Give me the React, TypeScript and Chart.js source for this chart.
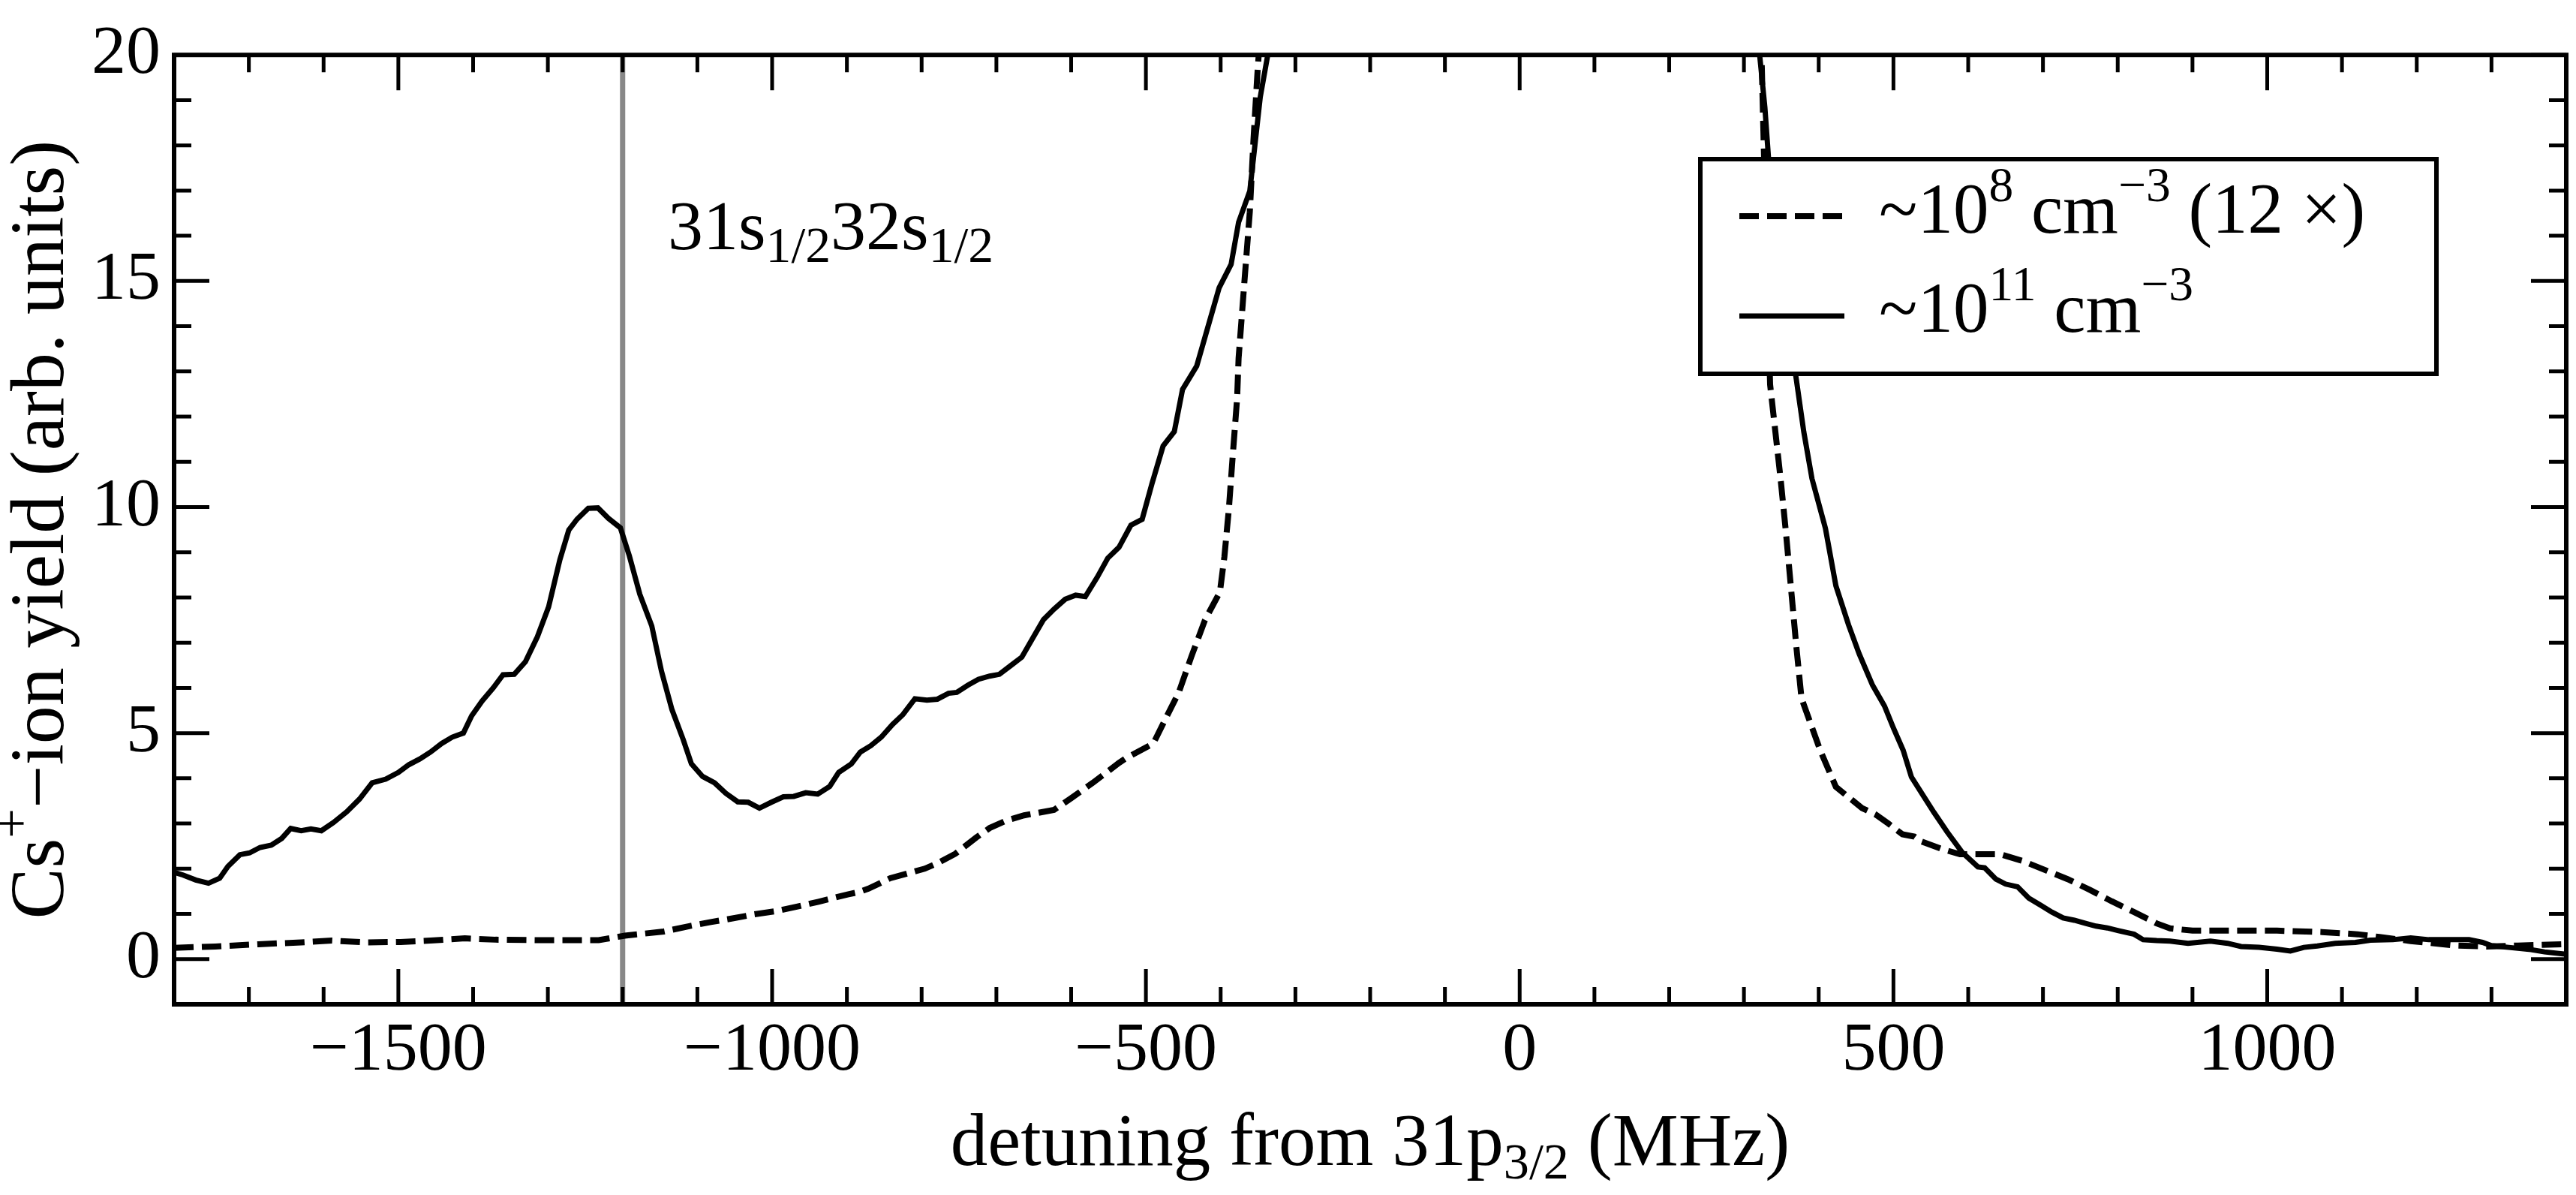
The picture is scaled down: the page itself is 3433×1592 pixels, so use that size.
import React, { useEffect, useRef } from "react";
import { Chart, registerables } from "chart.js";

Chart.register(...registerables);

const FONT = "'Liberation Serif', 'Times New Roman', serif";

// ~10^11 cm^-3 (solid)
const solidDetuning = [
  -1800, -1788, -1771, -1754, -1739, -1728, -1712, -1699, -1685, -1670, -1656, -1644, -1630, -1617,
  -1603, -1587, -1569, -1552, -1535, -1517, -1500, -1486, -1471, -1457, -1442, -1428, -1413, -1402,
  -1388, -1373, -1360, -1345, -1330, -1314, -1299, -1284, -1272, -1261, -1246, -1233, -1219, -1203,
  -1191, -1177, -1161, -1148, -1134, -1119, -1108, -1093, -1077, -1062, -1046, -1032, -1017, -1001,
  -985, -971, -955, -939, -923, -911, -894, -882, -868, -854, -839, -825, -809, -793, -779, -764,
  -753, -738, -724, -709, -696, -681, -666, -652, -637, -623, -608, -594, -581, -565, -551, -536,
  -520, -505, -492, -477, -462, -451, -432, -414, -402, -386, -376, -361, -354, -347, -337, -330,
  0,
  315, 321, 328, 333, 352, 370, 380, 391, 409, 423, 440, 454, 472, 488, 500, 513, 524, 539, 554,
  572, 592, 613, 622, 637, 650, 666, 681, 697, 712, 727, 742, 757, 771, 786, 801, 822, 834, 852,
  870, 894, 924, 947, 965, 989, 1013, 1031, 1049, 1067, 1091, 1118, 1138, 1168, 1192, 1216, 1246,
  1270, 1288, 1300, 1323, 1353, 1371, 1400,
];
const solidYield: (number | null)[] = [
  1.92, 1.86, 1.75, 1.68, 1.79, 2.05, 2.31, 2.35, 2.47, 2.52, 2.67, 2.89, 2.84, 2.88,
  2.84, 3.02, 3.26, 3.54, 3.9, 3.98, 4.13, 4.3, 4.43, 4.58, 4.77, 4.91, 5.0, 5.38,
  5.71, 6.0, 6.29, 6.3, 6.58, 7.13, 7.79, 8.83, 9.49, 9.73, 9.97, 9.98, 9.75, 9.54,
  8.92, 8.07, 7.37, 6.37, 5.52, 4.86, 4.32, 4.04, 3.9, 3.67, 3.48, 3.47, 3.34, 3.47,
  3.59, 3.6, 3.68, 3.65, 3.82, 4.13, 4.32, 4.58, 4.72, 4.91, 5.19, 5.41, 5.76, 5.73, 5.75, 5.88,
  5.9, 6.06, 6.19, 6.26, 6.3, 6.49, 6.68, 7.08, 7.51, 7.74, 7.96, 8.05, 8.02, 8.45, 8.87, 9.11,
  9.6, 9.73, 10.51, 11.35, 11.67, 12.6, 13.12, 14.16, 14.85, 15.37, 16.3, 16.99, 18.03, 19.07, 20.0, 21.0,
  null,
  21.0, 20.0, 18.84, 17.69, 14.8, 12.83, 11.67, 10.63, 9.53, 8.26, 7.39, 6.76, 6.06, 5.6, 5.11, 4.62, 4.03, 3.64, 3.25,
  2.81, 2.36, 2.04, 2.02, 1.77, 1.66, 1.6, 1.35, 1.19, 1.04, 0.91, 0.86, 0.79, 0.73, 0.69, 0.63, 0.55, 0.43, 0.41,
  0.4, 0.35, 0.4, 0.35, 0.28, 0.26, 0.22, 0.18, 0.26, 0.29, 0.35, 0.37, 0.42, 0.43, 0.47, 0.43, 0.43,
  0.43, 0.37, 0.3, 0.26, 0.21, 0.16, 0.11,
];

// ~10^8 cm^-3, scaled 12x (dashed)
const dashedDetuning = [
  -1800, -1745, -1687, -1630, -1589, -1543, -1497, -1457, -1411, -1370, -1313, -1232, -1197, -1145,
  -1111, -1082, -1053, -1024, -995, -967, -938, -899, -885, -871, -842, -796, -779, -755, -727,
  -709, -686, -663, -623, -600, -571, -536, -527, -490, -473, -456, -439, -421, -401, -395, -389,
  -384, -378, -376, -368, -361, -356, -351, -345,
  0,
  322, 328, 335, 342, 349, 356, 363, 370, 377, 387, 402, 423, 458, 476, 493, 512, 528, 536, 566,
  589, 643, 673, 703, 733, 763, 792, 822, 852, 870, 900, 953, 1013, 1073, 1121, 1150, 1192, 1252,
  1294, 1335, 1400,
];
const dashedYield: (number | null)[] = [
  0.25, 0.28, 0.33, 0.37, 0.41, 0.37, 0.38, 0.41, 0.46, 0.43, 0.42, 0.42, 0.52, 0.61,
  0.73, 0.82, 0.9, 0.99, 1.06, 1.16, 1.27, 1.43, 1.48, 1.56, 1.79, 2.0, 2.12, 2.33, 2.69,
  2.9, 3.07, 3.18, 3.3, 3.56, 3.9, 4.34, 4.44, 4.77, 5.34, 5.9, 6.7, 7.5, 8.12, 8.9, 9.96,
  11.1, 12.4, 13.29, 15.03, 16.53, 18.15, 19.54, 21.0,
  null,
  21.0, 17.0, 12.71, 11.67, 10.63, 9.47, 8.2, 6.93, 5.77, 5.31, 4.62, 3.81, 3.34, 3.2, 3.0, 2.76, 2.71, 2.61, 2.43,
  2.32, 2.32, 2.17, 1.97, 1.77, 1.53, 1.28, 1.04, 0.79, 0.68, 0.63, 0.63, 0.63, 0.6, 0.55, 0.49, 0.4, 0.3,
  0.28, 0.3, 0.33,
];

const xTickValues = [-1500, -1000, -500, 0, 500, 1000];
const yTickValues = [0, 5, 10, 15, 20];
const markerLine = -1200; // 31s1/2 32s1/2 pair state

type Part = { text: string; mode?: "sup" | "sub" };

const dashedLabel: Part[] = [
  { text: "~10" }, { text: "8", mode: "sup" }, { text: " cm" }, { text: "\u22123", mode: "sup" }, { text: " (12 \u00d7)" },
];
const solidLabel: Part[] = [
  { text: "~10" }, { text: "11", mode: "sup" }, { text: " cm" }, { text: "\u22123", mode: "sup" },
];
const xTitle: Part[] = [{ text: "detuning from 31p" }, { text: "3/2", mode: "sub" }, { text: " (MHz)" }];
const yTitle: Part[] = [{ text: "Cs" }, { text: "+", mode: "sup" }, { text: "\u2212ion yield (arb. units)" }];
const pairLabel: Part[] = [
  { text: "31s" }, { text: "1/2", mode: "sub" }, { text: "32s" }, { text: "1/2", mode: "sub" },
];

function drawRich(
  ctx: CanvasRenderingContext2D,
  parts: Part[],
  x: number,
  y: number,
  size: number,
  align: "left" | "center",
  small = 0.69
) {
  const smallSize = size * small;
  const widths = parts.map((p) => {
    ctx.font = `${p.mode ? smallSize : size}px ${FONT}`;
    return ctx.measureText(p.text).width;
  });
  const total = widths.reduce((a, b) => a + b, 0);
  let cx = align === "center" ? x - total / 2 : x;
  ctx.textAlign = "left";
  ctx.textBaseline = "alphabetic";
  parts.forEach((p, i) => {
    ctx.font = `${p.mode ? smallSize : size}px ${FONT}`;
    const dy = p.mode === "sup" ? -size * 0.44 : p.mode === "sub" ? size * 0.18 : 0;
    ctx.fillText(p.text, cx, y + dy);
    cx += widths[i];
  });
}

const toPoints = (xs: number[], ys: (number | null)[]) => xs.map((x, i) => ({ x, y: ys[i] }));

const decorations = {
  id: "decorations",
  beforeDatasetsDraw(chart: any) {
    const { ctx, chartArea, scales } = chart;
    const px = scales.x.getPixelForValue(markerLine);
    ctx.save();
    ctx.strokeStyle = "#888888";
    ctx.lineWidth = 7;
    ctx.beginPath();
    ctx.moveTo(px, chartArea.top);
    ctx.lineTo(px, chartArea.bottom);
    ctx.stroke();
    ctx.restore();
  },
  afterDatasetsDraw(chart: any) {
    const { ctx, chartArea, scales } = chart;
    const { left, right, top, bottom } = chartArea;
    ctx.save();

    // legend box
    const bx = 2266, by = 212, bw = 981, bh = 286;
    ctx.fillStyle = "#ffffff";
    ctx.fillRect(bx, by, bw, bh);
    ctx.strokeStyle = "#000";
    ctx.lineWidth = 6;
    ctx.strokeRect(bx, by, bw, bh);
    const rows: [number, Part[], number, number][] = [
      [0, dashedLabel, 288, 310],
      [1, solidLabel, 421, 442],
    ];
    rows.forEach(([di, parts, ly, ty]) => {
      const ds = chart.data.datasets[di];
      ctx.strokeStyle = ds.borderColor;
      ctx.lineWidth = ds.borderWidth;
      ctx.setLineDash(ds.borderDash || []);
      ctx.beginPath();
      ctx.moveTo(2318, ly);
      ctx.lineTo(2458, ly);
      ctx.stroke();
      ctx.setLineDash([]);
      ctx.fillStyle = "#000";
      drawRich(ctx, parts, 2504, ty, 95, "left");
    });

    // frame
    ctx.strokeStyle = "#000";
    ctx.lineWidth = 6;
    ctx.strokeRect(left, top, right - left, bottom - top);

    // inward ticks on all sides
    const major = 47, minor = 23;
    ctx.lineWidth = 5;
    ctx.beginPath();
    for (let v = -1800; v <= 1400; v += 100) {
      const p = scales.x.getPixelForValue(v);
      const len = xTickValues.includes(v) ? major : minor;
      ctx.moveTo(p, bottom);
      ctx.lineTo(p, bottom - len);
      ctx.moveTo(p, top);
      ctx.lineTo(p, top + len);
    }
    for (let v = -1; v <= 20; v += 1) {
      const p = scales.y.getPixelForValue(v);
      const len = yTickValues.includes(v) ? major : minor;
      ctx.moveTo(left, p);
      ctx.lineTo(left + len, p);
      ctx.moveTo(right, p);
      ctx.lineTo(right - len, p);
    }
    ctx.stroke();

    // texts
    ctx.fillStyle = "#000";
    drawRich(ctx, pairLabel, 890, 332, 94, "left", 0.72);
    drawRich(ctx, xTitle, (left + right) / 2, 1552, 99, "center");
    ctx.save();
    ctx.translate(84, (top + bottom) / 2);
    ctx.rotate(-Math.PI / 2);
    drawRich(ctx, yTitle, 0, 0, 102, "center");
    ctx.restore();

    ctx.restore();
  },
};

const fmt = (v: number | string) => {
  const n = Number(v);
  return n < 0 ? "\u2212" + Math.abs(n) : String(n);
};

export default function App() {
  const canvasRef = useRef<HTMLCanvasElement | null>(null);
  const chartRef = useRef<Chart | null>(null);

  useEffect(() => {
    if (!canvasRef.current) return;
    if (chartRef.current) chartRef.current.destroy();

    chartRef.current = new Chart(canvasRef.current, {
      type: "line",
      data: {
        datasets: [
          {
            label: "~10^8 cm^-3 (12x)",
            data: toPoints(dashedDetuning, dashedYield) as any,
            borderColor: "#000000",
            borderWidth: 8,
            borderDash: [26, 11],
            pointRadius: 0,
            tension: 0,
            fill: false,
            spanGaps: false,
          },
          {
            label: "~10^11 cm^-3",
            data: toPoints(solidDetuning, solidYield) as any,
            borderColor: "#000000",
            borderWidth: 7,
            pointRadius: 0,
            tension: 0,
            fill: false,
            spanGaps: false,
          },
        ],
      },
      options: {
        animation: false,
        responsive: false,
        devicePixelRatio: 1,
        layout: { padding: { left: 0, top: 64, right: 13, bottom: 0 } },
        plugins: { legend: { display: false }, tooltip: { enabled: false } },
        scales: {
          x: {
            type: "linear",
            min: -1800,
            max: 1400,
            grid: { display: false, drawTicks: false },
            border: { display: false },
            afterBuildTicks: (s: any) => {
              s.ticks = xTickValues.map((value) => ({ value }));
            },
            afterFit: (s: any) => {
              s.height = 254;
            },
            ticks: {
              font: { family: FONT, size: 92 },
              color: "#000",
              padding: 8,
              autoSkip: false,
              maxRotation: 0,
              callback: fmt,
            },
          },
          y: {
            type: "linear",
            min: -1,
            max: 20,
            grid: { display: false, drawTicks: false },
            border: { display: false },
            afterBuildTicks: (s: any) => {
              s.ticks = yTickValues.map((value) => ({ value }));
            },
            afterFit: (s: any) => {
              s.width = 232;
            },
            ticks: {
              font: { family: FONT, size: 92 },
              color: "#000",
              padding: 18,
              autoSkip: false,
              callback: fmt,
            },
          },
        },
      },
      plugins: [decorations],
    });

    return () => {
      if (chartRef.current) {
        chartRef.current.destroy();
        chartRef.current = null;
      }
    };
  }, []);

  return (
    <div style={{ position: "fixed", left: 0, top: 0, width: 3433, height: 1592, background: "#fff" }}>
      <canvas ref={canvasRef} width={3433} height={1592} style={{ display: "block" }}></canvas>
    </div>
  );
}
